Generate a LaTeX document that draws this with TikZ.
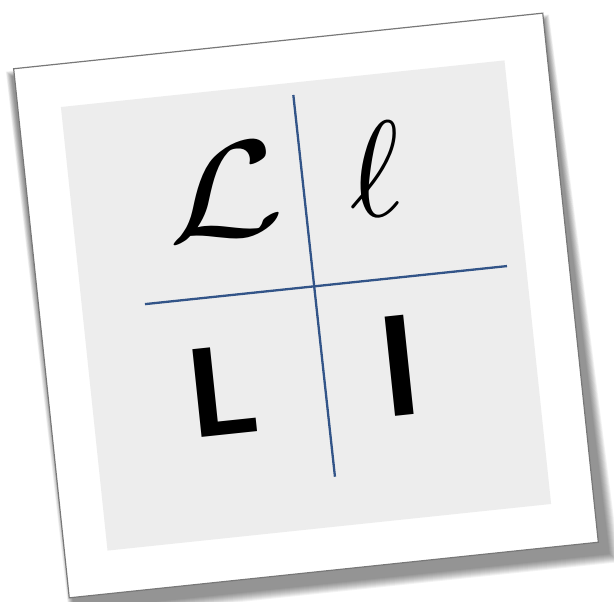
\documentclass[tikz,border=0pt]{standalone}
\usepackage{fontspec}
\newfontfamily\sansb{Lato}
\definecolor{panelgrey}{RGB}{237,237,237}
\definecolor{edgegrey}{RGB}{120,120,120}
\definecolor{crossblue}{RGB}{50,84,136}
\tikzset{
  cardbox/.style={rectangle, draw=edgegrey, line width=1.2pt, fill=white, minimum size=532pt, inner sep=0pt, transform shape},
  panelbox/.style={rectangle, fill=panelgrey, minimum size=446pt, inner sep=0pt, transform shape},
  crossline/.style={draw=crossblue, line width=2.3pt},
  cursiveletter/.style={inner sep=0pt, transform shape, scale=13.5},
  printletter/.style={inner sep=0pt, transform shape},
}
\begin{document}
\begin{tikzpicture}[x=1pt,y=-1pt]
\useasboundingbox (0,0) rectangle (614,602);
\fill[white] (0,0) rectangle (614,602);
\begin{scope}[shift={(306,305.5)}, rotate=6]
  \foreach \e in {1,...,10}{
    \fill[black,opacity=0.05] (-268-0.6*\e,-258-0.6*\e) -- (266+0.6*\e,-258-0.6*\e) -- (275+\e,278+\e) -- (-262-0.6*\e,278+\e) -- cycle;
  }
  \node[cardbox] (card) at (0,0) {};
  \node[panelbox] (panel) at (0,0) {};
  \coordinate (hl) at (-160,-18.2);
  \coordinate (hr) at (204,-18.2);
  \coordinate (vt) at (9.4,-210.7);
  \coordinate (vb) at (10.9,173.3);
  \draw[crossline] (hl) -- (hr);
  \draw[crossline] (vt) -- (vb);
  \node[cursiveletter, xscale=1.28] (cL) at (-71,-122) {$\mathcal{L}$};
  \node[cursiveletter] (cl) at (82.8,-127.6) {$\ell$};
  \node[printletter, font=\sansb\bfseries\fontsize{122}{122}\selectfont, xscale=1.08] (pL) at (-94,75.7) {L};
  \node[printletter, font=\sansb\bfseries\fontsize{138}{138}\selectfont] (pI) at (87.2,70) {I};
\end{scope}
\end{tikzpicture}
\end{document}
